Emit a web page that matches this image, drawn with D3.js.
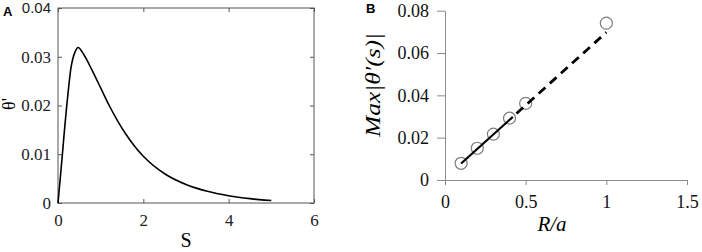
<!DOCTYPE html>
<html><head><meta charset="utf-8">
<script src="https://cdn.jsdelivr.net/npm/d3@7"></script>
<style>body{margin:0;background:#fff}svg{display:block}</style>
</head><body>
<svg id="c" width="702" height="252"></svg>
<script>
// Panel A data
const sValues = [0, 0.05, 0.1, 0.15, 0.2, 0.25, 0.3, 0.35, 0.4, 0.47, 0.6, 0.8, 1.0, 1.2, 1.4, 1.6, 1.8, 2.0, 2.5, 3.0, 3.5, 4.0, 4.5, 5.0];
const thetaValues = [0, 0.0048, 0.0097, 0.0148, 0.0195, 0.0238, 0.0275, 0.0297, 0.0310, 0.0319, 0.0305, 0.0272, 0.0236, 0.0200, 0.0168, 0.0140, 0.0116, 0.0096, 0.0060, 0.0038, 0.0024, 0.0015, 0.0009, 0.0005];
const aXTicks = [0, 2, 4, 6];
const aYTicks = [0, 0.01, 0.02, 0.03, 0.04];
// Panel B data
const ratioValues = [0.1, 0.2, 0.3, 0.4, 0.5, 1.0];
const maxValues = [0.0079, 0.0150, 0.0217, 0.0292, 0.0362, 0.0741];
const solidFitX = [0.1, 0.42];
const solidFitY = [0.0078, 0.0298];
const dashFitX = [0.42, 1.0];
const dashFitY = [0.0298, 0.0698];
const bXTicks = [0, 0.5, 1, 1.5];
const bYTicks = [0, 0.02, 0.04, 0.06, 0.08];

const svg = d3.select("#c");
const SERIF = '"Liberation Serif"';
const SANS = '"Liberation Sans"';

// ---------- Panel A ----------
const ax = d3.scaleLinear().domain([0, 6]).range([58, 314]);
const ay = d3.scaleLinear().domain([0, 0.04]).range([203, 8]);
const gA = svg.append("g");
const fmtA = d => d === 0 ? "0" : d3.format(".2f")(d);
function styleA(g, size){
  g.attr("font-family", null).attr("font-size", null);
  g.select(".domain").remove();
  g.selectAll(".tick line").attr("stroke", "#555");
  g.selectAll(".tick text").style("font-family", SERIF).style("font-size", size + "px").attr("fill", "#222");
}
gA.append("g").attr("transform", "translate(0,203)")
  .call(d3.axisBottom(ax).tickValues(aXTicks).tickSize(-4).tickPadding(11).tickFormat(d3.format("d")))
  .call(g => styleA(g, 17));
gA.append("g").attr("transform", "translate(0,8)")
  .call(d3.axisTop(ax).tickValues(aXTicks).tickSize(-4).tickFormat(""))
  .call(g => styleA(g, 17));
gA.append("g").attr("transform", "translate(58,0)")
  .call(d3.axisLeft(ay).tickValues(aYTicks).tickSize(-4).tickPadding(7).tickFormat(fmtA))
  .call(g => styleA(g, 17))
  .call(g => g.selectAll(".tick text").filter(d => d === 0.04).style("font-family", SANS).style("font-size", "15px"));
gA.append("g").attr("transform", "translate(314,0)")
  .call(d3.axisRight(ay).tickValues(aYTicks).tickSize(-4).tickFormat(""))
  .call(g => styleA(g, 17));
gA.append("rect").attr("x", 58).attr("y", 8).attr("width", 256).attr("height", 195)
  .attr("fill", "none").attr("stroke", "#555").attr("stroke-width", 1);
gA.append("path")
  .datum(sValues.map((s, i) => [s, thetaValues[i]]))
  .attr("fill", "none").attr("stroke", "#000").attr("stroke-width", 1.6)
  .attr("d", d3.line().x(d => ax(d[0])).y(d => ay(d[1])).curve(d3.curveMonotoneX));
gA.append("text").attr("x", 3).attr("y", 16).style("font-family", SANS).attr("font-weight", "bold")
  .style("font-size", "13px").text("A");
gA.append("text").attr("transform", "translate(15,104) rotate(-90)").attr("text-anchor", "middle")
  .style("font-family", SERIF).style("font-size", "18px").text("θ'");
gA.append("text").attr("x", 186).attr("y", 247).attr("text-anchor", "middle")
  .style("font-family", SERIF).style("font-size", "20px").text("S");

// ---------- Panel B ----------
const bx = d3.scaleLinear().domain([0, 1.5]).range([445, 687]);
const by = d3.scaleLinear().domain([0, 0.08]).range([180, 10.7]);
const gB = svg.append("g");
function styleB(g){
  g.attr("font-family", null).attr("font-size", null);
  g.select(".domain").attr("stroke", "#8c8c8c");
  g.selectAll(".tick line").attr("stroke", "#8c8c8c");
  g.selectAll(".tick text").style("font-family", SERIF).style("font-size", "18px").attr("fill", "#111");
}
gB.append("g").attr("transform", "translate(0,180)")
  .call(d3.axisBottom(bx).tickValues(bXTicks).tickSize(5).tickSizeOuter(0).tickPadding(10)
    .tickFormat(d => d === 0 ? "0" : (Number.isInteger(d) ? String(d) : d3.format(".1f")(d))))
  .call(styleB);
gB.append("g").attr("transform", "translate(445,0)")
  .call(d3.axisLeft(by).tickValues(bYTicks).tickSize(8).tickSizeOuter(0).tickPadding(8)
    .tickFormat(d => d === 0 ? "0" : d3.format(".2f")(d)))
  .call(styleB);
const lineB = d3.line().x(d => bx(d[0])).y(d => by(d[1]));
gB.selectAll("circle").data(ratioValues.map((r, i) => [r, maxValues[i]]))
  .join("circle").attr("cx", d => bx(d[0])).attr("cy", d => by(d[1])).attr("r", 6)
  .attr("fill", "#fff").attr("stroke", "#7f7f7f").attr("stroke-width", 1.2);
gB.append("path").datum(solidFitX.map((x, i) => [x, solidFitY[i]]))
  .attr("fill", "none").attr("stroke", "#000").attr("stroke-width", 2.2).attr("d", lineB);
gB.append("path").datum(dashFitX.map((x, i) => [x, dashFitY[i]]))
  .attr("fill", "none").attr("stroke", "#000").attr("stroke-width", 2.8)
  .attr("stroke-dasharray", "9,6").attr("stroke-dashoffset", -5).attr("d", lineB);
gB.append("text").attr("x", 366).attr("y", 13).style("font-family", SANS).attr("font-weight", "bold")
  .style("font-size", "13px").text("B");
gB.append("text").attr("transform", "translate(380,85) rotate(-90)").attr("text-anchor", "middle")
  .style("font-family", SERIF).style("font-style", "italic").style("font-size", "22px")
  .attr("textLength", 104).attr("lengthAdjust", "spacingAndGlyphs").text("Max|θ′(s)|");
gB.append("text").attr("x", 552).attr("y", 231).attr("text-anchor", "middle")
  .style("font-family", SERIF).style("font-style", "italic").style("font-size", "21px").text("R/a");
</script>
</body></html>
